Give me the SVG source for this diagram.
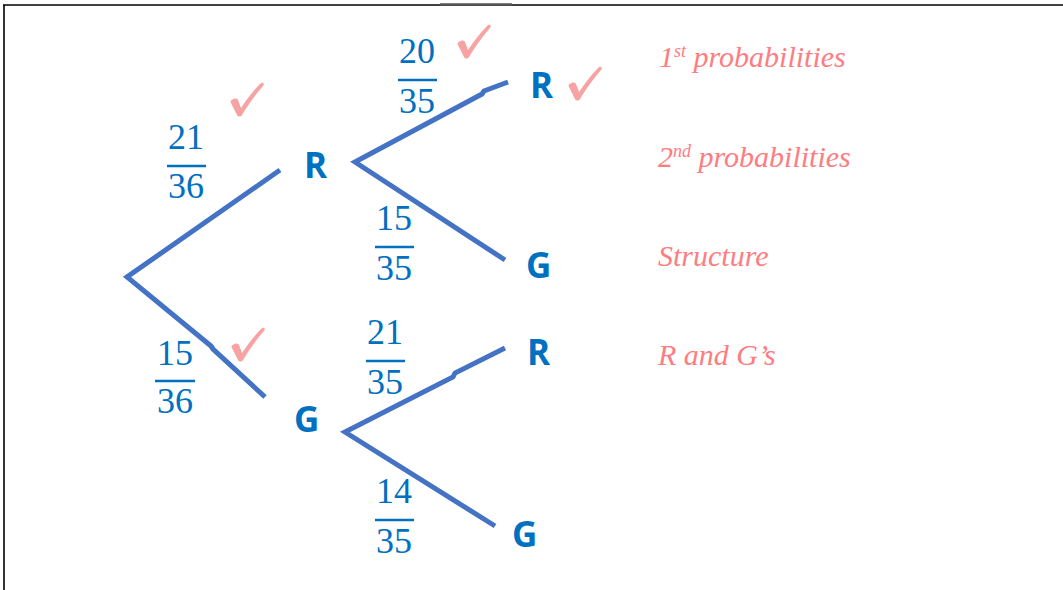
<svg xmlns="http://www.w3.org/2000/svg" width="1063" height="590" viewBox="0 0 1063 590">
<style>
.br{fill:none;stroke:#4472C4;stroke-width:5;stroke-linecap:butt;stroke-linejoin:miter}
.lbl{font-family:"Open Sans","Liberation Sans",Arial,sans-serif;font-weight:bold;font-size:35px;fill:#0070C0}
.num{font-family:"Liberation Serif","Times New Roman",serif;font-size:36px;fill:#0070C0;text-anchor:middle}
.bar{stroke:#0070C0;stroke-width:2.6}
.note{font-family:"Liberation Serif","Times New Roman",serif;font-style:italic;font-size:30px;fill:#FF7C80}
.sup{font-size:18px}
.chk{fill:#F7A3A3}
</style>
<defs>
<path id="tick" d="M0,0 C2,-2 5,-2 6,0 L9,8 C15,-1 21,-9 29,-17 C31,-18 33,-16 31,-14 C23,-5 16,5 10,15 C9,17 6,17 5,15 L-1,3 C-2,1 -1,0 0,0 Z"/>
</defs>
<rect width="1063" height="590" fill="#fff"/>
<g id="frame">
<line x1="3" y1="5" x2="1063" y2="5" stroke="#000" stroke-width="1.6"/>
<line x1="4" y1="5" x2="4" y2="590" stroke="#000" stroke-width="1.6"/>
<line x1="440" y1="4.5" x2="512" y2="4.5" stroke="#555" stroke-width="2.4"/>
</g>
<g id="connectors">
<polyline class="br" points="280,170 127,277 211,346 213,349 265,397"/>
<polyline class="br" points="508,82 484,91 482,94 355,162 505,260"/>
<polyline class="br" points="505,348 455,373 453,377 345,432 495,526"/>
</g>
<g id="node-R1"><text class="lbl" x="304" y="178">R</text></g>
<g id="node-G1"><text class="lbl" x="294" y="432">G</text></g>
<g id="node-RR"><text class="lbl" x="530" y="98">R</text></g>
<g id="node-RG"><text class="lbl" x="526" y="278">G</text></g>
<g id="node-GR"><text class="lbl" x="527" y="365">R</text></g>
<g id="node-GG"><text class="lbl" x="512" y="547">G</text></g>
<g id="frac-21-36"><text class="num" x="186" y="149">21</text><line class="bar" x1="167" y1="166" x2="206" y2="166"/><text class="num" x="186" y="198">36</text></g>
<g id="frac-15-36"><text class="num" x="175" y="365">15</text><line class="bar" x1="155" y1="381" x2="195" y2="381"/><text class="num" x="175" y="413">36</text></g>
<g id="frac-20-35"><text class="num" x="417" y="63">20</text><line class="bar" x1="398" y1="80" x2="437" y2="80"/><text class="num" x="417" y="113">35</text></g>
<g id="frac-15-35"><text class="num" x="394" y="230">15</text><line class="bar" x1="375" y1="247" x2="414" y2="247"/><text class="num" x="394" y="280">35</text></g>
<g id="frac-21-35"><text class="num" x="385" y="344">21</text><line class="bar" x1="366" y1="361" x2="405" y2="361"/><text class="num" x="385" y="394">35</text></g>
<g id="frac-14-35"><text class="num" x="394" y="503">14</text><line class="bar" x1="375" y1="520" x2="414" y2="520"/><text class="num" x="394" y="553">35</text></g>
<g id="ticks">
<use class="chk" href="#tick" x="232" y="100"/>
<use class="chk" href="#tick" x="233" y="345"/>
<use class="chk" href="#tick" x="459" y="42"/>
<use class="chk" href="#tick" x="570" y="84"/>
</g>
<g id="notes">
<text class="note" x="659" y="67">1<tspan class="sup" dy="-10">st</tspan><tspan dy="10"> probabilities</tspan></text>
<text class="note" x="658" y="167">2<tspan class="sup" dy="-10">nd</tspan><tspan dy="10"> probabilities</tspan></text>
<text class="note" x="658" y="266">Structure</text>
<text class="note" x="658" y="365">R and G’s</text>
</g>
</svg>
